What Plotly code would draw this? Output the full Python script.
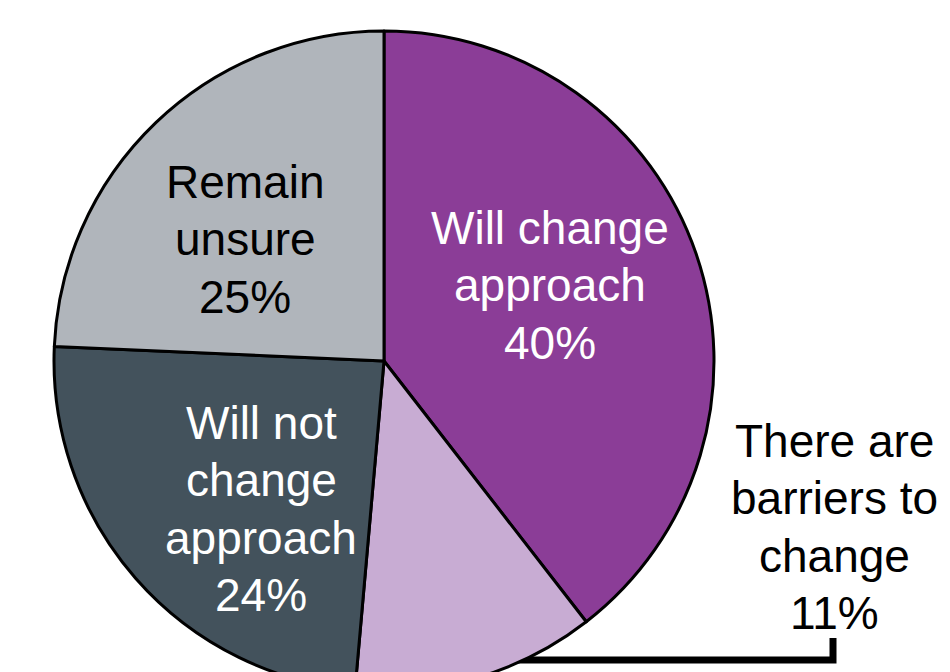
import plotly.graph_objects as go

# ---- data ----
categories = ["Will change approach", "There are barriers to change",
              "Will not change approach", "Remain unsure"]
shares = [39.5, 11.9, 24.3, 24.3]          # slice sizes as drawn
label_pct = ["40%", "11%", "24%", "25%"]   # printed percentages
label_lines = [["Will change", "approach"],
               ["There are", "barriers to", "change"],
               ["Will not", "change", "approach"],
               ["Remain", "unsure"]]
colors = ["#8B3D97", "#C8ACD3", "#43525C", "#B0B5BB"]
text_colors = ["white", "black", "white", "black"]

W, H = 950, 700
CX, CY, R = 384, 361, 330
FONT = 46
LINE_GAP = 57.5

def px(x):
    return x / W

def py(y):
    return (H - y) / H

fig = go.Figure()
fig.add_trace(go.Pie(
    labels=categories,
    values=shares,
    sort=False,
    direction="clockwise",
    rotation=0,
    marker=dict(colors=colors, line=dict(color="black", width=3)),
    textinfo="none",
    showlegend=False,
    domain=dict(x=[px(CX - R), px(CX + R)], y=[py(CY + R), py(CY - R)]),
))

# label anchor: (centre x, first baseline y) in pixels
label_pos = [(550, 243), (834, 456), (261, 438), (245, 197)]
for i, (lx, by) in enumerate(label_pos):
    lines = label_lines[i] + [label_pct[i]]
    for k, line in enumerate(lines):
        base = by + k * LINE_GAP
        fig.add_annotation(
            x=px(lx), y=py(base - 0.33 * FONT), xref="paper", yref="paper",
            text=line, showarrow=False, xanchor="center", yanchor="middle",
            font=dict(family="Liberation Sans, Arial, sans-serif", size=FONT,
                      color=text_colors[i]),
        )

# leader line for the outside label
fig.add_shape(
    type="path", xref="paper", yref="paper", layer="below",
    path=f"M {px(505)} {py(660)} L {px(833)} {py(660)} L {px(833)} {py(638)}",
    line=dict(color="black", width=7),
)

fig.update_layout(
    width=W, height=H,
    margin=dict(l=0, r=0, t=0, b=0),
    paper_bgcolor="white", plot_bgcolor="white",
)

fig.write_html("out.html")
